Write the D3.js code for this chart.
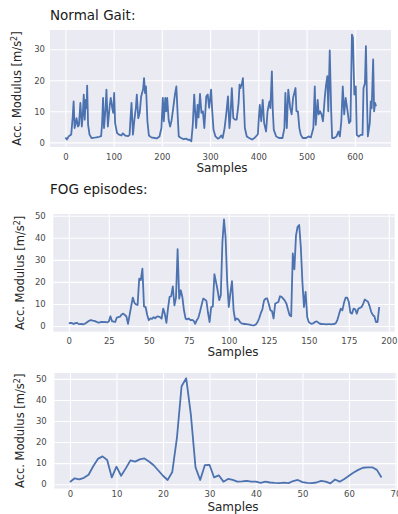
<!DOCTYPE html>
<html>
<head>
<meta charset="utf-8">
<script src="https://cdn.jsdelivr.net/npm/d3@7"></script>
<style>
    body { margin: 0; background: #fff; }
    svg text { font-family: "DejaVu Sans", sans-serif; }
    .grid line { stroke: #fff; stroke-width: 1.1; }
    .grid .domain { display: none; }
    .grid text { fill: #4a4a4a; font-size: 8.5px; }
</style>
</head>
<body>
<div id="chart"></div>
<script>
// Normal gait: (sample, value) vertices
const gaitSamples = [0, 3, 7, 12, 15, 17, 19, 21, 23, 26, 28, 31, 34, 36, 38, 40, 42, 44, 45, 47, 50, 54, 60, 64, 70, 74, 76, 78, 80, 83, 85, 88, 92, 94, 97, 99, 101, 103, 107, 111, 116, 119, 124, 130, 133, 135, 137, 140, 143, 146, 148, 151, 154, 157, 159, 161, 163, 165, 167, 170, 173, 178, 185, 190, 195, 199, 202, 204, 207, 209, 211, 214, 217, 220, 223, 227, 230, 233, 235, 240, 245, 250, 254, 257, 261, 264, 267, 271, 274, 276, 279, 282, 285, 288, 292, 295, 298, 302, 304, 307, 311, 316, 319, 323, 326, 330, 334, 337, 340, 342, 345, 348, 352, 355, 359, 361, 363, 366, 368, 370, 372, 376, 381, 387, 392, 395, 399, 401, 403, 406, 409, 412, 416, 419, 423, 425, 428, 430, 432, 437, 443, 450, 454, 456, 459, 462, 466, 469, 472, 477, 479, 482, 485, 488, 492, 499, 504, 509, 514, 517, 519, 523, 525, 528, 531, 534, 538, 540, 543, 545, 548, 551, 553, 557, 562, 566, 569, 572, 575, 578, 581, 585, 588, 591, 594, 596, 599, 602, 604, 608, 612, 616, 618, 621, 623, 625, 627, 631, 633, 635, 638, 640, 642, 644];
const gaitValues = [1.6, 0.9, 2.0, 2.5, 8, 13.2, 4.6, 6, 7.8, 5.1, 5.5, 12.7, 5.1, 9, 15.4, 7.3, 13.7, 11, 18.3, 5.6, 2.5, 1.4, 1.5, 1.6, 1.8, 2.0, 6, 14.3, 4.6, 10.5, 17, 5.1, 12.1, 14.3, 11.1, 9.5, 15.9, 6.2, 3.0, 2.5, 2.2, 2.9, 2.2, 2.0, 2.4, 8, 12.7, 2.5, 7.3, 11, 15.4, 7.8, 9.5, 14.8, 16, 17, 20.7, 15.9, 18.0, 6.8, 2.2, 1.6, 1.4, 1.3, 1.9, 4.6, 14.3, 6.8, 14.3, 10, 14.3, 7.3, 5.1, 7, 10.5, 15.4, 18, 7.8, 1.9, 1.4, 1.0, 1.2, 0.8, 0.9, 0.3, 5.6, 15.4, 4.6, 12.1, 8, 15.6, 9.5, 10, 4.6, 14.8, 15.4, 11.1, 17, 11, 4.1, 1.9, 1.2, 1.4, 2.2, 1.4, 4.6, 10, 14.8, 4.6, 8, 17.5, 7.8, 7.3, 7.3, 12.7, 18.6, 17.5, 19, 20.7, 12.7, 4.6, 1.9, 1.4, 0.9, 1.4, 1.9, 2.6, 7.8, 12.1, 6.8, 13.7, 6.2, 3.5, 10, 13.2, 11, 22.9, 10, 4, 1.9, 1.4, 1.4, 4.6, 15.9, 4.6, 17, 11.1, 9, 14.3, 17.5, 10, 10, 4.6, 2.4, 1.4, 1.4, 1.9, 1.6, 4.6, 18, 5.6, 13.7, 9, 10, 9, 6.8, 15, 18, 21.3, 10, 29.6, 10, 1.4, 1.4, 1.9, 3.5, 1.9, 6.8, 18, 9, 14.3, 10, 6.2, 6.8, 34.7, 33.8, 15.4, 18, 2.4, 1.9, 2.4, 2.4, 17.5, 19, 31, 15.4, 1.9, 6.2, 13.2, 11, 26.7, 10, 12.7, 11.6];

// FOG episodes: one value per sample (0..194)
const fogValues = [1.2, 1.4, 1.3, 0.9, 1.3, 1.4, 1.0, 0.8, 0.9, 0.7, 1.0, 1.5, 2.0, 2.5, 2.6, 2.4, 2.3, 2.0, 1.6, 1.5,
    1.8, 1.9, 1.7, 1.8, 1.6, 2.0, 4.4, 2.2, 2.0, 1.8, 3.8, 4.0, 4.2, 5.2, 5.6, 5.0, 4.3, 1.0, 5.0, 9.0,
    12.9, 10.5, 9.8, 9.5, 21.5, 20.8, 26.0, 8.8, 8.6, 5.0, 2.6, 3.4, 3.2, 4.0, 3.5, 4.2, 4.3, 4.0, 3.3, 7.9,
    5.5, 1.4, 8.0, 13.2, 13.5, 18.0, 9.3, 12.9, 34.8, 12.4, 16.2, 13.0, 7.0, 3.3, 3.0, 3.4, 2.6, 2.8, 2.4, 1.0,
    2.6, 3.8, 6.5, 9.5, 12.4, 12.0, 11.4, 6.0, 1.8, 8.6, 8.8, 23.5, 20.0, 16.2, 11.7, 14.0, 38.0, 48.3, 40.0, 20.0,
    8.6, 15.0, 20.3, 7.1, 2.6, 3.4, 3.0, 1.8, 1.2, 1.0, 0.9, 0.8, 0.7, 0.6, 0.4, 0.3, 0.3, 0.8, 1.8, 3.5,
    5.8, 7.5, 11.5, 12.4, 12.5, 10.0, 7.1, 6.8, 3.4, 10.2, 10.5, 10.9, 13.5, 13.2, 12.4, 11.5, 10.2, 7.5, 4.9, 4.4,
    32.9, 25.7, 41.0, 45.0, 45.8, 36.0, 20.0, 8.6, 15.5, 4.1, 1.8, 1.2, 1.0, 1.3, 1.9, 2.1, 1.5, 1.0, 0.9, 0.8,
    0.8, 0.7, 0.8, 0.8, 0.7, 0.8, 0.9, 1.4, 3.0, 5.6, 7.9, 7.1, 10.5, 12.8, 12.9, 11.0, 6.0, 5.6, 7.9, 7.6,
    5.6, 7.9, 8.2, 8.6, 10.0, 12.0, 11.5, 11.0, 9.0, 6.4, 5.0, 4.4, 1.8, 1.8, 8.6];

// single FOG episode: one value per sample (0..67)
const episodeValues = [1.0, 2.8, 2.3, 3.0, 4.5, 8.5, 12.0, 13.2, 11.5, 3.2, 8.3, 4.0, 7.5, 11.3, 10.7, 11.8, 12.2, 10.8, 9.0, 6.5,
    4.0, 2.0, 5.8, 22.0, 46.5, 50.3, 33.0, 8.0, 2.0, 9.0, 9.2, 3.2, 4.2, 1.2, 2.5, 2.0, 1.2, 1.3, 1.6, 1.2,
    1.2, 0.6, 1.2, 0.8, 0.6, 0.5, 0.7, 0.5, 1.5, 2.0, 1.0, 0.6, 0.5, 0.8, 1.6, 1.2, 0.4, 2.2, 1.2, 2.5,
    4.0, 5.5, 6.8, 7.8, 8.0, 8.0, 6.8, 3.2];

const gaitXTicks = [0, 100, 200, 300, 400, 500, 600];
const gaitYTicks = [0, 10, 20, 30];
const fogXTicks = [0, 25, 50, 75, 100, 125, 150, 175, 200];
const episodeXTicks = [0, 10, 20, 30, 40, 50, 60, 70];
const fogYTicks = [0, 10, 20, 30, 40, 50];

const width = 398, height = 514;
const lineColor = '#4C72B0';

const panels = [
    { title: 'Normal Gait:', titleY: 20, xs: gaitSamples, ys: gaitValues,
      left: 50, right: 391, top: 30, bottom: 147, xDomain: [-32, 675], yDomain: [-1.5, 36.2],
      xTicks: gaitXTicks, yTicks: gaitYTicks, xPad: 6.5, yPad: 5, xLabelX: 222, xLabelY: 172, yLabelX: 21 },
    { title: 'FOG episodes:', titleY: 193.5, xs: fogValues.map((_, i) => i), ys: fogValues,
      left: 53.3, right: 394.7, top: 214, bottom: 331.7, xDomain: [-9.7, 203.7], yDomain: [-2.6, 50.8],
      xTicks: fogXTicks, yTicks: fogYTicks, xPad: 5.8, yPad: 7.6, xLabelX: 233, xLabelY: 356, yLabelX: 24 },
    { title: null, xs: episodeValues.map((_, i) => i), ys: episodeValues,
      left: 54.4, right: 397.1, top: 373, bottom: 488.6, xDomain: [-3.35, 70.35], yDomain: [-2.1, 52.8],
      xTicks: episodeXTicks, yTicks: fogYTicks, xPad: 2.8, yPad: 7.7, xLabelX: 233, xLabelY: 510.5, yLabelX: 24 }
];

const svg = d3.select('#chart').append('svg')
    .attr('width', width)
    .attr('height', height);

panels.forEach((p, k) => {
    const w = p.right - p.left;
    const h = p.bottom - p.top;

    const x = d3.scaleLinear().domain(p.xDomain).range([p.left, p.right]);
    const y = d3.scaleLinear().domain(p.yDomain).range([p.bottom, p.top]);

    svg.append('rect')
        .attr('x', p.left).attr('y', p.top)
        .attr('width', w).attr('height', h)
        .attr('fill', '#EAEAF2');

    svg.append('g')
        .attr('class', 'grid')
        .attr('transform', `translate(0, ${p.bottom})`)
        .call(d3.axisBottom(x).tickValues(p.xTicks).tickFormat(d3.format('d')).tickSize(-h).tickPadding(p.xPad));

    svg.append('g')
        .attr('class', 'grid')
        .attr('transform', `translate(${p.left}, 0)`)
        .call(d3.axisLeft(y).tickValues(p.yTicks).tickFormat(d3.format('d')).tickSize(-w).tickPadding(p.yPad));

    svg.append('clipPath')
        .attr('id', 'clip' + k)
        .append('rect')
        .attr('x', p.left).attr('y', p.top)
        .attr('width', w).attr('height', h);

    const pts = p.xs.map((s, i) => [s, p.ys[i]]);
    svg.append('path')
        .datum(pts)
        .attr('clip-path', `url(#clip${k})`)
        .attr('fill', 'none')
        .attr('stroke', lineColor)
        .attr('stroke-width', 1.8)
        .attr('stroke-linejoin', 'round')
        .attr('d', d3.line().x(d => x(d[0])).y(d => y(d[1])));

    if (p.title) {
        svg.append('text')
            .attr('x', 50).attr('y', p.titleY)
            .attr('font-size', '13.5px')
            .attr('fill', '#1a1a1a')
            .text(p.title);
    }

    svg.append('text')
        .attr('x', p.xLabelX).attr('y', p.xLabelY)
        .attr('text-anchor', 'middle')
        .attr('font-size', '12px')
        .attr('fill', '#262626')
        .text('Samples');

    const yl = svg.append('text')
        .attr('transform', `translate(${p.yLabelX}, ${(p.top + p.bottom) / 2}) rotate(-90)`)
        .attr('text-anchor', 'middle')
        .attr('font-size', '11.5px')
        .attr('fill', '#262626');
    yl.append('tspan').text('Acc. Modulus [m/s');
    yl.append('tspan').attr('dy', -4.5).attr('font-size', '8px').text('2');
    yl.append('tspan').attr('dy', 4.5).text(']');
});
</script>
</body>
</html>
